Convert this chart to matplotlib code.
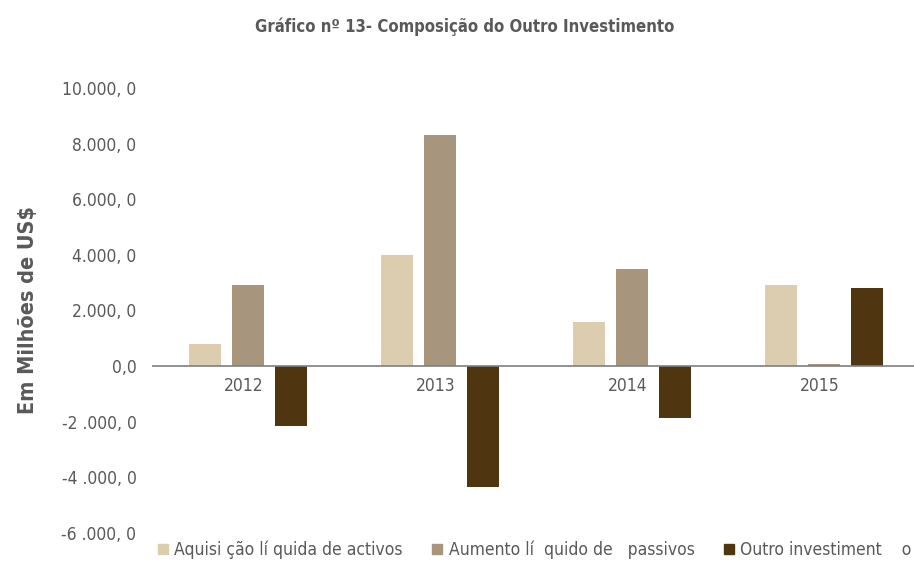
import matplotlib
matplotlib.use("Agg")
import matplotlib.pyplot as plt
from matplotlib.lines import Line2D
import numpy as np

plt.rcParams['font.family'] = ['DejaVu Sans']
plt.rcParams['font.stretch'] = 'condensed'

years = ["2012", "2013", "2014", "2015"]
series_names = ["Aquisi ção lí quida de activos",
                "Aumento lí  quido de   passivos",
                "Outro investiment    o"]
aquisicao = [800, 3980, 1590, 2920]
aumento = [2930, 8300, 3490, 60]
outro = [-2160, -4350, -1880, 2820]
yticks = [-6000, -4000, -2000, 0, 2000, 4000, 6000, 8000, 10000]
ytick_labels = ["-6 .000, 0", "-4 .000, 0", "-2 .000, 0", "0,0", "2.000, 0",
                "4.000, 0", "6.000, 0", "8.000, 0", "10.000, 0"]
colors = ["#DBCDAE", "#A8957E", "#4F3510"]
text_color = "#595959"

fig = plt.figure(figsize=(9.14, 5.68), dpi=100)
ax = fig.add_axes([0.166, 0.062, 0.834, 0.783])

x = np.arange(len(years))
width = 0.167
pitch = 0.224
for k, (vals, c) in enumerate(zip([aquisicao, aumento, outro], colors)):
    ax.bar(x + (k - 1) * pitch, vals, width=width, color=c, label=series_names[k], zorder=2)

ax.axhline(0, color="#808080", linewidth=1.2, zorder=3)
ax.set_xlim(-0.5, 3.47)
ax.set_ylim(-6000, 10000)
ax.set_yticks(yticks)
ax.set_yticklabels(ytick_labels, color=text_color, fontsize=12.5)
ax.tick_params(axis='y', length=0, pad=11)
ax.set_xticks([])
for s in ax.spines.values():
    s.set_visible(False)

for i, yr in enumerate(years):
    ax.annotate(yr, xy=(x[i] - 0.02, 0), xytext=(0, -8), textcoords="offset points",
                ha="center", va="top", fontsize=12.5, color=text_color)

ax.set_ylabel("Em Milhões de US$", fontsize=15.5, fontweight="bold", color=text_color, labelpad=17)

fig.suptitle("Gráfico nº 13- Composição do Outro Investimento", x=0.508, y=0.97,
             fontsize=12, fontweight="bold", color=text_color)

handles = [Line2D([0], [0], marker='s', linestyle='none', markersize=7.5,
                  markerfacecolor=c, markeredgecolor=c) for c in colors]
fig.legend(handles, series_names, loc="lower center", bbox_to_anchor=(0.584, -0.012),
           ncol=3, frameon=False, fontsize=12.5, labelcolor=text_color,
           handletextpad=0.25, columnspacing=1.6, handlelength=0.8)

fig.savefig("out.png", dpi=100)
